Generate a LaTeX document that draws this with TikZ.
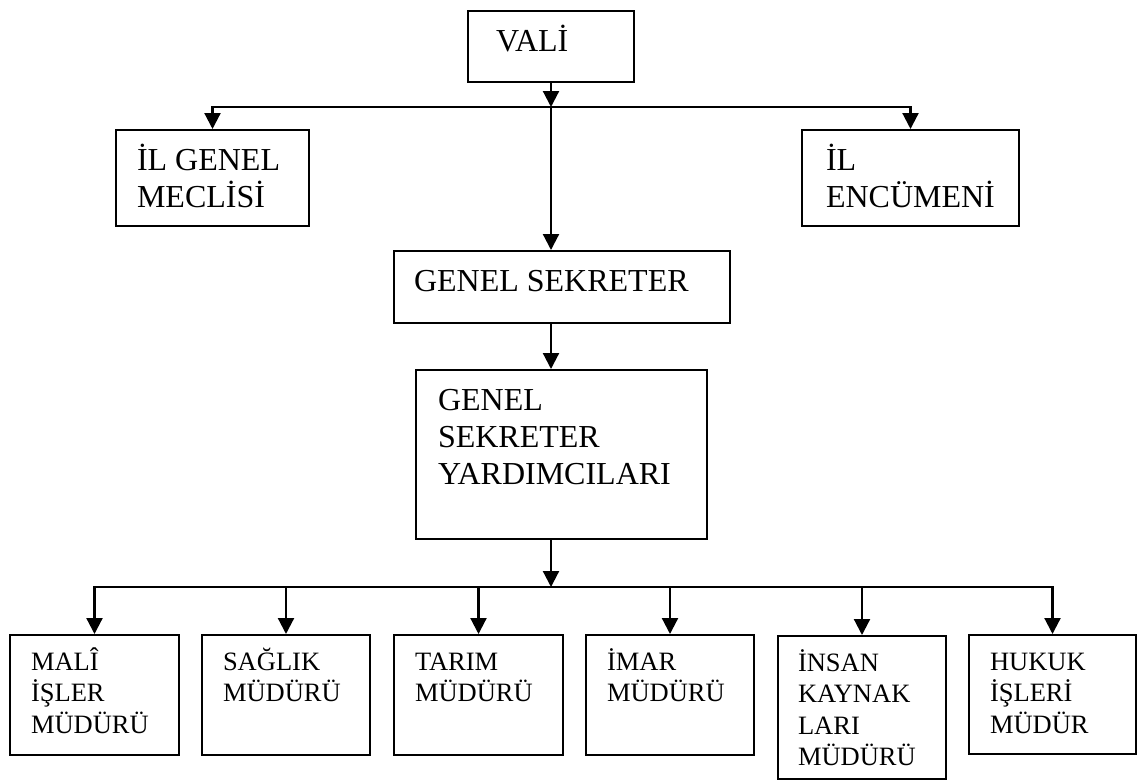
\documentclass[tikz,border=0pt]{standalone}
\usepackage{fontspec}
\setmainfont{Liberation Serif}
\usetikzlibrary{arrows.meta}
\tikzset{
    unit/.style={draw,line width=2pt,anchor=north west,inner ysep=0pt,inner xsep=21pt},
    feed/.style={-{Triangle[length=16pt,width=16pt]},line width=2.2pt},
    bus/.style={line width=2.2pt}
}
% box text: height, width, lines
\newcommand{\toplabel}[3]{\parbox[t][#1pt][t]{#2pt}{\fontsize{32}{37}\selectfont\raggedright\rule{0pt}{40pt}#3}}
\newcommand{\lowlabel}[3]{\parbox[t][#1pt][t]{#2pt}{\fontsize{26.5}{31.5}\selectfont\raggedright\rule{0pt}{35pt}#3}}

\begin{document}
\begin{tikzpicture}[x=1pt,y=-1pt]
    \useasboundingbox (0,0) rectangle (1137,779);

    % top level
    \node[unit,inner xsep=28pt] (vali)     at (467,10)  {\toplabel{71}{110}{VALİ}};
    \node[unit]                 (meclis)   at (115,129) {\toplabel{96}{151}{İL~GENEL\\MECLİSİ}};
    \node[unit,inner xsep=24pt] (encumen)  at (801,129) {\toplabel{96}{169}{İL\\ENCÜMENİ}};
    \node[unit,inner xsep=20pt] (sekreter) at (393,250) {\toplabel{72}{296}{GENEL~SEKRETER}};
    \node[unit,inner xsep=22pt] (yardimci) at (415,369) {\toplabel{169}{247}{GENEL\\SEKRETER\\YARDIMCILARI}};

    % directorates
    \node[unit] (mali)   at (9,634)   {\lowlabel{120}{127}{MALÎ\\İŞLER\\MÜDÜRÜ}};
    \node[unit] (saglik) at (201,634) {\lowlabel{120}{126}{SAĞLIK\\MÜDÜRÜ}};
    \node[unit] (tarim)  at (393,634) {\lowlabel{120}{127}{TARIM\\MÜDÜRÜ}};
    \node[unit] (imar)   at (585,634) {\lowlabel{120}{126}{İMAR\\MÜDÜRÜ}};
    \node[unit,inner xsep=20pt] (insan) at (777,635) {\lowlabel{143}{128}{İNSAN\\KAYNAK\\LARI\\MÜDÜRÜ}};
    \node[unit] (hukuk)  at (968,634) {\lowlabel{119}{125}{HUKUK\\İŞLERİ\\MÜDÜR}};

    % connectors
    \coordinate (topbus) at ([yshift=-24pt]vali.south);
    \coordinate (lowbus) at (topbus |- 0,587);

    \draw[feed] (vali.south) -- (topbus);
    \draw[feed] (topbus) -| (meclis.north);
    \draw[feed] (topbus) -| (encumen.north);
    \draw[feed] (topbus) -- (topbus |- sekreter.north);
    \draw[feed] (topbus |- sekreter.south) -- (topbus |- yardimci.north);
    \draw[feed] (topbus |- yardimci.south) -- (lowbus);
    \foreach \d in {mali,saglik,tarim,imar,insan,hukuk}
        \draw[feed] (lowbus) -| (\d.north);

\end{tikzpicture}
\end{document}
